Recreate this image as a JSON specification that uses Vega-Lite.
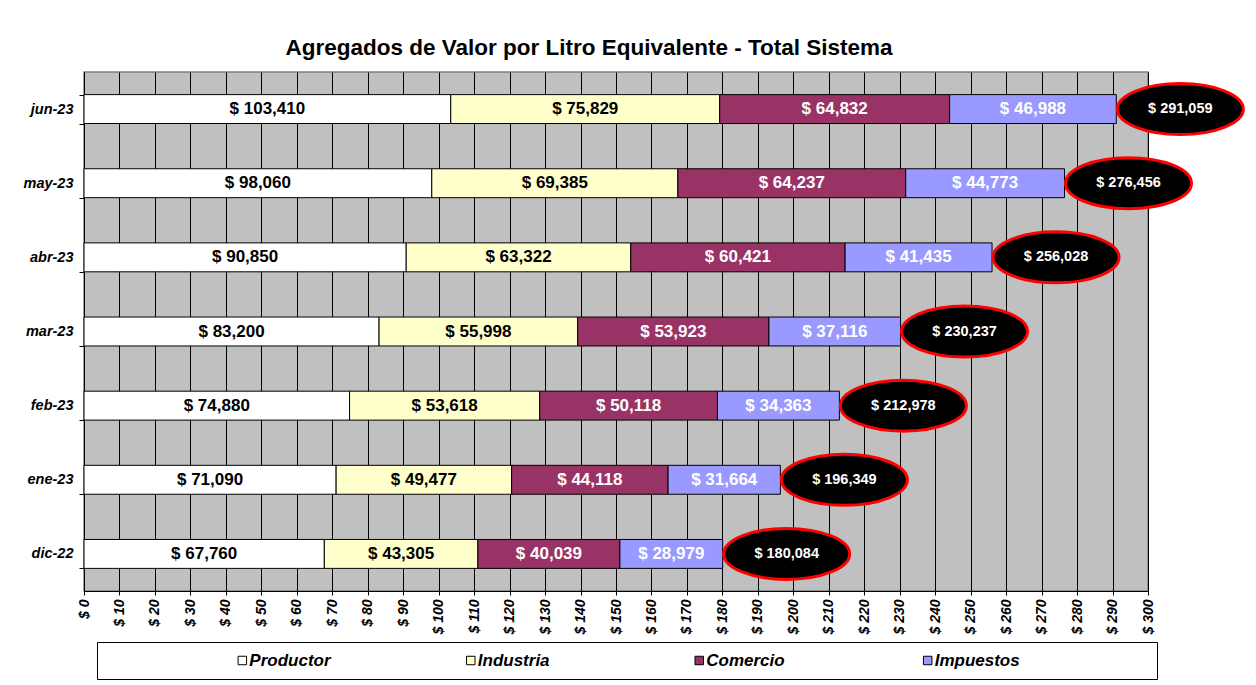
{
  "$schema": "https://vega.github.io/schema/vega-lite/v6.json",
  "padding": {"left": 5, "top": 35, "right": 5, "bottom": 5},
  "config": {
    "font": "Liberation Sans",
    "locale": {"number": {"decimal": ",", "thousands": ".", "grouping": [3], "currency": ["$ ", ""]}},
    "view": {"stroke": null}
  },
  "datasets": {
    "componentes": [
      {"mes": "jun-23", "categoria": "Productor", "orden": 1, "valor": 103.410},
      {"mes": "jun-23", "categoria": "Industria", "orden": 2, "valor": 75.829},
      {"mes": "jun-23", "categoria": "Comercio", "orden": 3, "valor": 64.832},
      {"mes": "jun-23", "categoria": "Impuestos", "orden": 4, "valor": 46.988},
      {"mes": "may-23", "categoria": "Productor", "orden": 1, "valor": 98.060},
      {"mes": "may-23", "categoria": "Industria", "orden": 2, "valor": 69.385},
      {"mes": "may-23", "categoria": "Comercio", "orden": 3, "valor": 64.237},
      {"mes": "may-23", "categoria": "Impuestos", "orden": 4, "valor": 44.773},
      {"mes": "abr-23", "categoria": "Productor", "orden": 1, "valor": 90.850},
      {"mes": "abr-23", "categoria": "Industria", "orden": 2, "valor": 63.322},
      {"mes": "abr-23", "categoria": "Comercio", "orden": 3, "valor": 60.421},
      {"mes": "abr-23", "categoria": "Impuestos", "orden": 4, "valor": 41.435},
      {"mes": "mar-23", "categoria": "Productor", "orden": 1, "valor": 83.200},
      {"mes": "mar-23", "categoria": "Industria", "orden": 2, "valor": 55.998},
      {"mes": "mar-23", "categoria": "Comercio", "orden": 3, "valor": 53.923},
      {"mes": "mar-23", "categoria": "Impuestos", "orden": 4, "valor": 37.116},
      {"mes": "feb-23", "categoria": "Productor", "orden": 1, "valor": 74.880},
      {"mes": "feb-23", "categoria": "Industria", "orden": 2, "valor": 53.618},
      {"mes": "feb-23", "categoria": "Comercio", "orden": 3, "valor": 50.118},
      {"mes": "feb-23", "categoria": "Impuestos", "orden": 4, "valor": 34.363},
      {"mes": "ene-23", "categoria": "Productor", "orden": 1, "valor": 71.090},
      {"mes": "ene-23", "categoria": "Industria", "orden": 2, "valor": 49.477},
      {"mes": "ene-23", "categoria": "Comercio", "orden": 3, "valor": 44.118},
      {"mes": "ene-23", "categoria": "Impuestos", "orden": 4, "valor": 31.664},
      {"mes": "dic-22", "categoria": "Productor", "orden": 1, "valor": 67.760},
      {"mes": "dic-22", "categoria": "Industria", "orden": 2, "valor": 43.305},
      {"mes": "dic-22", "categoria": "Comercio", "orden": 3, "valor": 40.039},
      {"mes": "dic-22", "categoria": "Impuestos", "orden": 4, "valor": 28.979}
    ],
    "totales": [
      {"mes": "jun-23", "total": 291.059},
      {"mes": "may-23", "total": 276.456},
      {"mes": "abr-23", "total": 256.028},
      {"mes": "mar-23", "total": 230.237},
      {"mes": "feb-23", "total": 212.978},
      {"mes": "ene-23", "total": 196.349},
      {"mes": "dic-22", "total": 180.084}
    ]
  },
  "spacing": 6,
  "vconcat": [
    {
      "width": 1064,
      "height": 519,
      "title": {"text": "Agregados de Valor por Litro Equivalente - Total Sistema", "fontSize": 22.5, "fontWeight": "bold", "color": "#000000", "anchor": "middle", "dx": -27, "offset": 5},
      "view": {"fill": "#C0C0C0", "stroke": "#808080", "strokeWidth": 1.5},
      "layer": [
        {
          "data": {"name": "componentes"},
          "mark": {"type": "bar", "stroke": "#000000", "strokeWidth": 1},
          "encoding": {
            "y": {"field": "mes", "type": "nominal", "sort": ["jun-23", "may-23", "abr-23", "mar-23", "feb-23", "ene-23", "dic-22"],
                  "scale": {"paddingInner": 0.61, "paddingOuter": 0.305},
                  "axis": {"title": null, "labelFontSize": 14.5, "labelFontWeight": "bold", "labelFontStyle": "italic", "labelColor": "#000000", "tickBand": "extent", "tickSize": 5, "tickColor": "#000000", "domainColor": "#000000", "labelPadding": 6, "minExtent": 78, "grid": false}},
            "x": {"field": "valor", "type": "quantitative", "stack": "zero",
                  "scale": {"domain": [0, 300], "nice": false},
                  "axis": {"title": null, "tickCount": 30, "format": "$,d", "labelAngle": -90, "labelFontSize": 14, "labelFontWeight": "bold", "labelFontStyle": "italic", "labelColor": "#000000", "grid": true, "gridColor": "#000000", "gridWidth": 1, "gridOpacity": 1, "tickColor": "#000000", "tickSize": 4, "labelPadding": 4, "domainColor": "#000000", "labelFlush": false, "labelOverlap": false}},
            "color": {"field": "categoria", "type": "nominal",
                      "scale": {"domain": ["Productor", "Industria", "Comercio", "Impuestos"], "range": ["#FFFFFF", "#FFFFCC", "#993366", "#9999FF"]},
                      "legend": null},
            "order": {"field": "orden"}
          }
        },
        {
          "data": {"name": "componentes"},
          "mark": {"type": "text", "fontSize": 17, "fontWeight": "bold"},
          "encoding": {
            "y": {"field": "mes", "type": "nominal", "sort": ["jun-23", "may-23", "abr-23", "mar-23", "feb-23", "ene-23", "dic-22"]},
            "x": {"field": "valor", "type": "quantitative", "stack": "zero", "bandPosition": 0.5},
            "order": {"field": "orden"},
            "text": {"field": "valor", "type": "quantitative", "format": "$,.3f"},
            "color": {"condition": {"test": "datum.categoria === 'Comercio' || datum.categoria === 'Impuestos'", "value": "#FFFFFF"}, "value": "#000000"}
          }
        },
        {
          "data": {"name": "totales"},
          "mark": {"type": "point", "shape": "M-1,0A1,0.405,0,1,1,1,0A1,0.405,0,1,1,-1,0Z", "size": 15876, "filled": true, "fill": "#000000", "stroke": "#FF0000", "strokeWidth": 3, "opacity": 1, "xOffset": 64},
          "encoding": {
            "y": {"field": "mes", "type": "nominal", "sort": ["jun-23", "may-23", "abr-23", "mar-23", "feb-23", "ene-23", "dic-22"]},
            "x": {"field": "total", "type": "quantitative"}
          }
        },
        {
          "data": {"name": "totales"},
          "mark": {"type": "text", "fontSize": 14.5, "fontWeight": "bold", "color": "#FFFFFF", "xOffset": 64},
          "encoding": {
            "y": {"field": "mes", "type": "nominal", "sort": ["jun-23", "may-23", "abr-23", "mar-23", "feb-23", "ene-23", "dic-22"]},
            "x": {"field": "total", "type": "quantitative"},
            "text": {"field": "total", "type": "quantitative", "format": "$,.3f"}
          }
        }
      ]
    },
    {
      "spacing": 11,
      "hconcat": [
        {
          "width": 1,
          "height": 37,
          "data": {"values": []},
          "mark": "point"
        },
        {
          "width": 1060,
          "height": 37,
          "view": {"fill": "#FFFFFF", "stroke": "#000000", "strokeWidth": 1},
          "data": {"name": "componentes"},
          "transform": [{"aggregate": [{"op": "min", "field": "orden", "as": "orden"}], "groupby": ["categoria"]}],
          "encoding": {
            "x": {"field": "categoria", "type": "nominal", "sort": ["Productor", "Industria", "Comercio", "Impuestos"], "scale": {"type": "point", "padding": 0.82}, "axis": null}
          },
          "layer": [
            {
              "mark": {"type": "square", "size": 72, "stroke": "#000000", "strokeWidth": 1, "filled": true, "opacity": 1, "xOffset": -42},
              "encoding": {
                "color": {"field": "categoria", "type": "nominal",
                          "scale": {"domain": ["Productor", "Industria", "Comercio", "Impuestos"], "range": ["#FFFFFF", "#FFFFCC", "#993366", "#9999FF"]},
                          "legend": null}
              }
            },
            {
              "mark": {"type": "text", "align": "left", "xOffset": -35, "fontSize": 17, "fontWeight": "bold", "fontStyle": "italic", "color": "#000000"},
              "encoding": {"text": {"field": "categoria", "type": "nominal"}}
            }
          ]
        }
      ]
    }
  ]
}
